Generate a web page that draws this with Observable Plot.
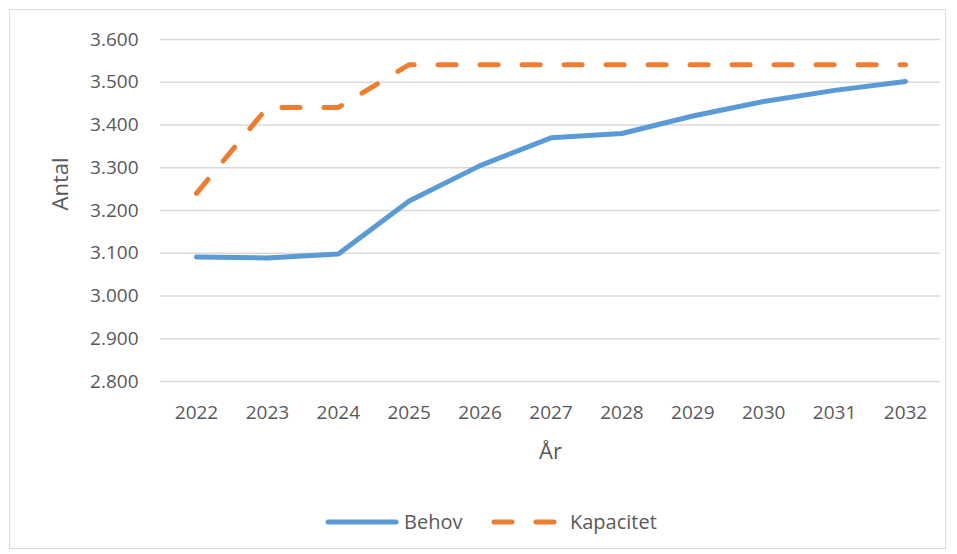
<!DOCTYPE html>
<html>
<head>
<meta charset="utf-8">
<script src="https://cdn.jsdelivr.net/npm/d3@7"></script>
<script src="https://cdn.jsdelivr.net/npm/@observablehq/plot@0.6"></script>
<style>
  body { margin: 0; background: #fff; }
  #wrap { position: relative; width: 957px; height: 554px; overflow: hidden; font-family: "Open Sans", sans-serif; }
  #frame { position: absolute; left: 9px; top: 9px; width: 937px; height: 540px; border: 1px solid #d9d9d9; box-sizing: border-box; }
  #chart { position: absolute; left: 0; top: 0; }
  #legend { position: absolute; top: 508px; left: 0; width: 957px; height: 30px; }
  #legend svg { display: block; }
</style>
</head>
<body>
<div id="wrap">
  <div id="frame"></div>
  <div id="chart"></div>
  <div id="legend"></div>
</div>
<script>
const years = ["2022","2023","2024","2025","2026","2027","2028","2029","2030","2031","2032"];
const behov = [3091, 3089, 3098, 3222, 3305, 3370, 3380, 3421, 3455, 3481, 3502];
const kapacitet = [3240, 3441, 3441, 3541, 3541, 3541, 3541, 3541, 3541, 3541, 3541];
const yTicks = [2800, 2900, 3000, 3100, 3200, 3300, 3400, 3500, 3600];
const seriesNames = ["Behov", "Kapacitet"];
const colors = ["#5b9bd5", "#ed7d31"];

const data = [];
years.forEach((y, i) => {
  data.push({year: y, value: behov[i], series: seriesNames[0]});
  data.push({year: y, value: kapacitet[i], series: seriesNames[1]});
});
const fmt = v => d3.format(",")(v).replace(/,/g, ".");
const textColor = "#595959";

const plot = Plot.plot({
  width: 957,
  height: 480,
  marginLeft: 160,
  marginRight: 17,
  marginTop: 39,
  marginBottom: 99,
  style: {fontFamily: "'Open Sans', sans-serif", fontSize: "19px", color: textColor, background: "transparent", overflow: "visible"},
  x: {type: "point", domain: years, range: [196, 905], padding: 0, round: false},
  y: {domain: [2800, 3600]},
  marks: [
    Plot.ruleY(yTicks, {stroke: "#d9d9d9", strokeWidth: 1.5}),
    Plot.axisY({ticks: yTicks, tickFormat: fmt, tickSize: 0, tickPadding: 22, label: null, fill: textColor, fontSize: 19}),
    Plot.axisX({tickSize: 0, tickPadding: 24, label: null, fill: textColor, fontSize: 19}),
    Plot.text(["Antal"], {frameAnchor: "left", dx: -100, rotate: -90, fill: textColor, fontSize: 22}),
    Plot.text(["År"], {frameAnchor: "bottom", dy: 77, fill: textColor, fontSize: 22}),
    Plot.line(data.filter(d => d.series === "Behov"), {x: "year", y: "value", stroke: colors[0], strokeWidth: 5, strokeLinecap: "round", strokeLinejoin: "round"}),
    Plot.line(data.filter(d => d.series === "Kapacitet"), {x: "year", y: "value", stroke: colors[1], strokeWidth: 5, strokeLinecap: "round", strokeLinejoin: "round", strokeDasharray: "18,24"})
  ]
});
document.getElementById("chart").appendChild(plot);

// legend
const lg = d3.select("#legend").append("svg").attr("width", 957).attr("height", 30);
const cy = 14;
lg.append("line").attr("x1", 328).attr("x2", 396).attr("y1", cy).attr("y2", cy)
  .attr("stroke", colors[0]).attr("stroke-width", 5).attr("stroke-linecap", "round");
lg.append("text").attr("x", 404).attr("y", cy).attr("dy", "0.35em").text(seriesNames[0])
  .attr("fill", textColor).style("font-family", "'Open Sans', sans-serif").style("font-size", "20px");
lg.append("line").attr("x1", 494).attr("x2", 557).attr("y1", cy).attr("y2", cy)
  .attr("stroke", colors[1]).attr("stroke-width", 5).attr("stroke-linecap", "round").attr("stroke-dasharray", "18,24");
lg.append("text").attr("x", 570).attr("y", cy).attr("dy", "0.35em").text(seriesNames[1])
  .attr("fill", textColor).style("font-family", "'Open Sans', sans-serif").style("font-size", "20px");
</script>
</body>
</html>
